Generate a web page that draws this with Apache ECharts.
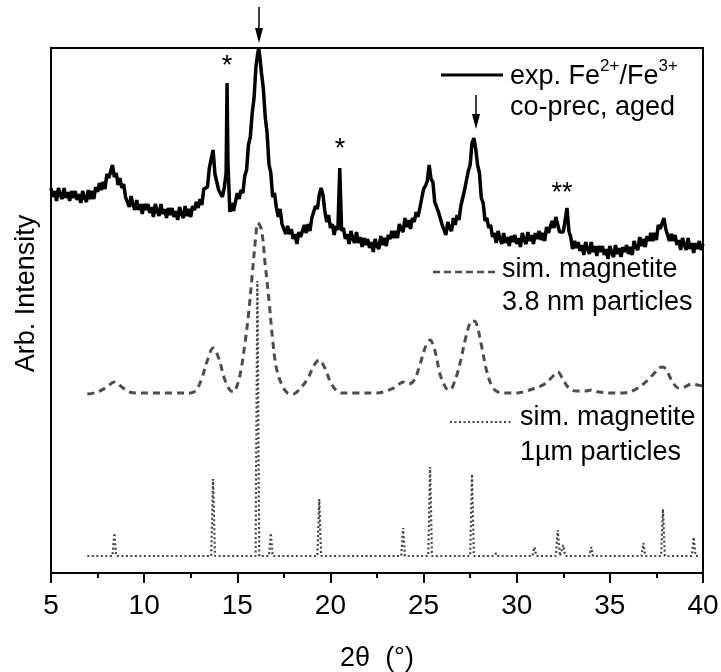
<!DOCTYPE html>
<html>
<head>
<meta charset="utf-8">
<script src="https://cdn.jsdelivr.net/npm/echarts@6/dist/echarts.min.js"></script>
<style>html,body{margin:0;padding:0;background:#fff}#c{width:721px;height:672px}</style>
</head>
<body>
<div id="c"></div>
<script>
// x-axis tick labels (2θ in degrees)
var xTicks = [5, 10, 15, 20, 25, 30, 35, 40];

// experimental Fe2+/Fe3+ co-precipitate, aged  [2θ, intensity]
var expData = [
[5.0,385],[5.1,376],[5.2,382],[5.3,372],[5.4,385],[5.5,378],[5.6,374],[5.7,385],[5.8,375],[5.9,381],
[6.0,372],[6.1,382],[6.2,375],[6.3,382],[6.4,373],[6.5,379],[6.6,370],[6.7,382],[6.8,375],[6.9,371],
[7.0,383],[7.1,374],[7.2,382],[7.3,374],[7.4,386],[7.5,381],[7.6,390],[7.7,383],[7.8,391],[7.9,384],
[8.0,399],[8.1,395],[8.2,393],[8.3,408],[8.4,396],[8.5,400],[8.6,388],[8.7,395],[8.8,385],[8.9,389],
[9.0,376],[9.1,378],[9.2,366],[9.3,377],[9.4,368],[9.5,363],[9.6,373],[9.7,363],[9.8,369],[9.9,359],
[10.0,369],[10.1,363],[10.2,369],[10.3,360],[10.4,366],[10.5,356],[10.6,369],[10.7,362],[10.8,357],[10.9,369],
[11.0,359],[11.1,364],[11.2,355],[11.3,365],[11.4,358],[11.5,365],[11.6,356],[11.7,362],[11.8,353],[11.9,366],
[12.0,359],[12.1,355],[12.2,367],[12.3,357],[12.4,364],[12.5,356],[12.6,367],[12.7,363],[12.8,371],[12.9,365],
[13.0,374],[13.1,368],[13.2,384],[13.3,384],[13.4,386],[13.5,405],[13.6,407],[13.7,423],[13.8,399],[13.9,397],
[14.0,383],[14.1,383],[14.2,376],[14.3,385],[14.4,400],[14.45,490],[14.5,410],[14.6,361],[14.7,370],[14.8,362],
[14.9,363],[15.0,380],[15.1,374],[15.2,383],[15.3,380],[15.4,397],[15.5,403],[15.6,428],[15.7,436],[15.8,460],
[15.9,475],[16.0,506],[16.1,520],[16.15,525],[16.2,518],[16.3,500],[16.4,484],[16.5,456],[16.6,440],[16.7,409],
[16.8,400],[16.9,376],[17.0,380],[17.1,365],[17.2,356],[17.3,364],[17.4,349],[17.5,351],[17.6,339],[17.7,347],
[17.8,339],[17.9,344],[18.0,334],[18.1,339],[18.2,329],[18.3,341],[18.4,336],[18.5,334],[18.6,348],[18.7,340],
[18.8,349],[18.9,342],[19.0,355],[19.1,354],[19.2,367],[19.3,364],[19.4,378],[19.5,385],[19.6,378],[19.7,362],
[19.8,351],[19.9,358],[20.0,345],[20.1,349],[20.2,338],[20.3,347],[20.4,343],[20.5,405],[20.6,342],[20.7,345],
[20.8,334],[20.9,339],[21.0,329],[21.1,342],[21.2,334],[21.3,330],[21.4,341],[21.5,330],[21.6,336],[21.7,326],
[21.8,335],[21.9,328],[22.0,334],[22.1,325],[22.2,331],[22.3,321],[22.4,334],[22.5,327],[22.6,324],[22.7,337],
[22.8,328],[22.9,335],[23.0,327],[23.1,338],[23.2,334],[23.3,342],[23.4,335],[23.5,342],[23.6,335],[23.7,349],
[23.8,344],[23.9,341],[24.0,355],[24.1,346],[24.2,353],[24.3,344],[24.4,355],[24.5,351],[24.6,361],[24.7,356],
[24.8,365],[24.9,363],[25.0,384],[25.1,387],[25.2,392],[25.3,408],[25.4,394],[25.5,391],[25.6,371],[25.7,373],
[25.8,361],[25.9,362],[26.0,348],[26.1,350],[26.2,338],[26.3,351],[26.4,345],[26.5,342],[26.6,355],[26.7,348],
[26.8,358],[26.9,353],[27.0,367],[27.1,368],[27.2,383],[27.3,384],[27.4,402],[27.5,408],[27.6,430],[27.7,435],
[27.8,424],[27.9,408],[28.0,400],[28.1,375],[28.2,370],[28.3,352],[28.4,355],[28.5,345],[28.6,348],[28.7,336],
[28.8,340],[28.9,330],[29.0,342],[29.1,334],[29.2,329],[29.3,340],[29.4,330],[29.5,336],[29.6,327],[29.7,337],
[29.8,331],[29.9,338],[30.0,329],[30.1,335],[30.2,326],[30.3,340],[30.4,333],[30.5,329],[30.6,341],[30.7,332],
[30.8,338],[30.9,329],[31.0,340],[31.1,334],[31.2,342],[31.3,333],[31.4,340],[31.5,332],[31.6,346],[31.7,340],
[31.8,338],[31.9,352],[32.0,345],[32.1,356],[32.2,357],[32.3,341],[32.4,343],[32.5,341],[32.6,353],[32.7,365],
[32.8,342],[32.9,336],[33.0,324],[33.1,332],[33.2,325],[33.3,331],[33.4,322],[33.5,328],[33.6,318],[33.7,331],
[33.8,324],[33.9,319],[34.0,331],[34.1,321],[34.2,327],[34.3,317],[34.4,327],[34.5,321],[34.6,327],[34.7,318],
[34.8,324],[34.9,314],[35.0,327],[35.1,320],[35.2,316],[35.3,328],[35.4,319],[35.5,325],[35.6,316],[35.7,326],
[35.8,321],[35.9,328],[36.0,319],[36.1,326],[36.2,318],[36.3,332],[36.4,326],[36.5,323],[36.6,336],[36.7,327],
[36.8,334],[36.9,326],[37.0,337],[37.1,332],[37.2,340],[37.3,332],[37.4,340],[37.5,333],[37.6,348],[37.7,344],
[37.8,343],[37.9,355],[38.0,344],[38.1,345],[38.2,332],[38.3,339],[38.4,332],[38.5,338],[38.6,328],[38.7,333],
[38.8,323],[38.9,335],[39.0,328],[39.1,323],[39.2,335],[39.3,324],[39.4,330],[39.5,320],[39.6,330],[39.7,324],
[39.8,332],[39.9,323],[40.0,329]
];

// simulated magnetite, 3.8 nm particles  [2θ, intensity]
var sim38Data = [
[6.95,179],[7.5,181],[8.0,186],[8.4,191],[8.8,186],[9.2,181],[9.7,180],[10.5,180],[11.5,180],[12.5,180],
[12.8,183],[13.1,195],[13.4,213],[13.7,225],[14.0,215],[14.3,195],[14.6,183],[14.8,181],[15.0,188],[15.2,203],
[15.4,228],[15.6,258],[15.8,298],[16.0,338],[16.1,350],[16.3,343],[16.5,308],[16.7,273],[16.9,233],[17.1,205],
[17.4,188],[17.7,180],[18.0,179],[18.4,185],[18.8,195],[19.1,207],[19.4,213],[19.7,205],[20.0,191],[20.3,183],
[20.6,180],[21.5,180],[22.5,180],[23.0,182],[23.5,186],[23.9,191],[24.2,189],[24.5,193],[24.8,208],[25.1,226],
[25.35,233],[25.6,223],[25.9,198],[26.2,185],[26.4,183],[26.7,193],[27.0,213],[27.3,238],[27.6,252],[27.8,251],
[28.1,228],[28.4,201],[28.7,186],[29.0,181],[29.5,180],[30.0,180],[30.5,182],[31.0,185],[31.5,189],[31.9,196],
[32.2,201],[32.5,193],[32.8,185],[33.2,182],[33.7,182],[34.0,183],[34.4,181],[35.0,180],[35.6,180],[36.2,182],
[36.8,189],[37.3,198],[37.8,206],[38.0,204],[38.4,190],[38.7,185],[39.0,186],[39.4,189],[39.7,188],[40.0,187]
];

// simulated magnetite, 1 µm particles  [2θ, intensity]
var sim1umData = [
[6.95,17],[8.3,17],[8.4,40],[8.5,17],[13.6,17],[13.7,94],[13.8,17],[15.98,17],[16.08,292],[16.18,17],
[16.7,17],[16.8,40],[16.9,17],[19.3,17],[19.4,74],[19.5,17],[21.1,17],[21.2,19],[21.3,17],[23.8,17],
[23.9,45],[24.0,17],[25.25,17],[25.35,106],[25.45,17],[27.5,17],[27.6,99],[27.7,17],[28.8,17],[28.9,20],
[29.0,17],[30.85,17],[30.95,26],[31.05,17],[32.1,17],[32.2,43],[32.32,17],[32.4,17],[32.5,28],[32.6,17],
[33.9,17],[34.0,26],[34.1,17],[36.7,17],[36.8,30],[36.9,17],[37.75,17],[37.85,64],[37.95,17],[39.4,17],
[39.5,36],[39.6,17],[39.8,17]
];

var FONT = '"Liberation Sans", Arial, sans-serif';
var chart = echarts.init(document.getElementById('c'), null, {renderer: 'canvas'});

var option = {
  animation: false,
  backgroundColor: '#fff',
  grid: {left: 51, right: 18, top: 48, bottom: 99, show: true, borderColor: '#000', borderWidth: 2,
         backgroundColor: 'transparent', containLabel: false, outerBoundsMode: 'none'},
  xAxis: {
    type: 'value', min: xTicks[0], max: xTicks[xTicks.length - 1], interval: 5,
    axisLine: {show: true, lineStyle: {color: '#000', width: 2}},
    axisTick: {show: true, inside: false, length: 10, lineStyle: {color: '#000', width: 2}},
    minorTick: {show: true, splitNumber: 2, length: 5, lineStyle: {color: '#000', width: 2}},
    splitLine: {show: false},
    axisLabel: {color: '#000', fontSize: 28, fontFamily: FONT, margin: 19},
    name: '2θ  (°)', nameLocation: 'middle', nameGap: 72,
    nameTextStyle: {color: '#000', fontSize: 27, fontFamily: FONT}
  },
  yAxis: {
    type: 'value', min: 0, max: 525,
    axisLine: {show: true, lineStyle: {color: '#000', width: 2}},
    axisTick: {show: false}, axisLabel: {show: false}, splitLine: {show: false},
    name: 'Arb. Intensity', nameLocation: 'middle', nameGap: 11,
    nameTextStyle: {color: '#000', fontSize: 27, fontFamily: FONT, padding: [0, 0, 0, 34]}
  },
  series: [
    {type: 'line', name: 'sim1um', data: sim1umData, showSymbol: false, symbol: 'none',
     lineStyle: {color: '#444', width: 2.2, type: [2, 2.5]}, z: 1},
    {type: 'line', name: 'sim38', data: sim38Data, showSymbol: false, symbol: 'none', smooth: 0.35,
     lineStyle: {color: '#4d4d4d', width: 3, type: [7, 5]}, z: 2},
    {type: 'line', name: 'exp', data: expData, showSymbol: false, symbol: 'none',
     lineStyle: {color: '#000', width: 3.5}, z: 3}
  ],
  graphic: [
    // arrows
    {type: 'line', shape: {x1: 259, y1: 7, x2: 259, y2: 30}, style: {stroke: '#000', lineWidth: 1.5}},
    {type: 'polygon', shape: {points: [[255, 28], [263, 28], [259, 43]]}, style: {fill: '#000'}},
    {type: 'line', shape: {x1: 476, y1: 95, x2: 476, y2: 117}, style: {stroke: '#000', lineWidth: 1.5}},
    {type: 'polygon', shape: {points: [[472, 114], [480, 114], [476, 129]]}, style: {fill: '#000'}},
    // asterisks
    {type: 'text', x: 227, y: 67, style: {text: '*', font: '27px ' + FONT, fill: '#000', align: 'center', verticalAlign: 'middle'}},
    {type: 'text', x: 340, y: 150, style: {text: '*', font: '27px ' + FONT, fill: '#000', align: 'center', verticalAlign: 'middle'}},
    {type: 'text', x: 562, y: 194, style: {text: '**', font: '27px ' + FONT, fill: '#000', align: 'center', verticalAlign: 'middle'}},
    // legend
    {type: 'line', shape: {x1: 441, y1: 75, x2: 503, y2: 75}, style: {stroke: '#000', lineWidth: 3}},
    {type: 'text', x: 510, y: 90, style: {
      text: '{m|exp. Fe}{s|2+}{m|/Fe}{s|3+}', fill: '#000', align: 'left', verticalAlign: 'bottom',
      rich: {m: {fontSize: 27, fontFamily: FONT, fill: '#000', verticalAlign: 'bottom', lineHeight: 32},
             s: {fontSize: 17, fontFamily: FONT, fill: '#000', verticalAlign: 'top', lineHeight: 17}}}},
    {type: 'text', x: 510, y: 108, style: {text: 'co-prec, aged', font: '27px ' + FONT, fill: '#000', align: 'left', verticalAlign: 'middle'}},
    {type: 'line', shape: {x1: 433, y1: 272, x2: 497, y2: 272}, style: {stroke: '#4d4d4d', lineWidth: 2.5, lineDash: [7, 4]}},
    {type: 'text', x: 502, y: 270, style: {text: 'sim. magnetite', font: '27px ' + FONT, fill: '#000', align: 'left', verticalAlign: 'middle'}},
    {type: 'text', x: 502, y: 303, style: {text: '3.8 nm particles', font: '27px ' + FONT, fill: '#000', align: 'left', verticalAlign: 'middle'}},
    {type: 'line', shape: {x1: 450, y1: 422, x2: 513, y2: 422}, style: {stroke: '#444', lineWidth: 2.2, lineDash: [2, 2.5]}},
    {type: 'text', x: 520, y: 418, style: {text: 'sim. magnetite', font: '27px ' + FONT, fill: '#000', align: 'left', verticalAlign: 'middle'}},
    {type: 'text', x: 520, y: 453, style: {text: '1µm particles', font: '27px ' + FONT, fill: '#000', align: 'left', verticalAlign: 'middle'}}
  ]
};
chart.setOption(option);
</script>
</body>
</html>
